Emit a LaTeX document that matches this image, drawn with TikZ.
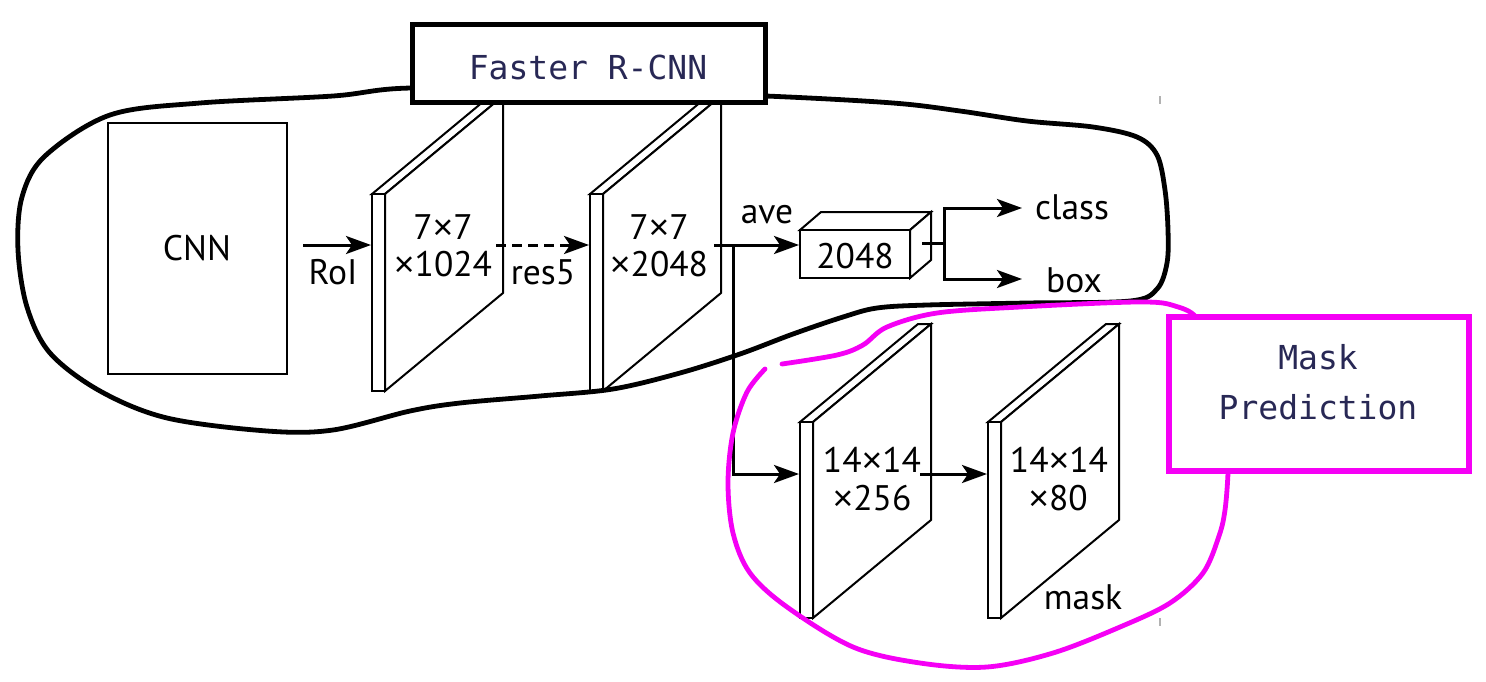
\documentclass[tikz,border=0pt]{standalone}
\usepackage{fontspec}
\usepackage{graphicx}
\setmainfont{PT Sans}
\newfontfamily\monof{DejaVu Sans Mono}
\newfontfamily\xfont{Liberation Sans}
\usetikzlibrary{arrows.meta}
\definecolor{navyt}{RGB}{40,40,85}
\definecolor{magn}{RGB}{245,0,245}
\newcommand\tms{{\xfont ×}}
\newcommand\myslab[3]{%
  \draw[slabline] (#1,#2) -- (#1+13,#2) -- (#1+131,#2-98) -- (#1+118,#2-98) -- cycle;
  \draw[slabline] (#1+13,#2) -- (#1+131,#2-98) -- (#1+131,#3-98) -- (#1+13,#3) -- cycle;
  \draw[slabline] (#1,#2) rectangle (#1+13,#3);
}
\begin{document}
\begin{tikzpicture}[x=1pt,y=-1pt,
  lab/.style={font=\fontsize{35.5}{40}\selectfont, inner sep=0pt},
  mono/.style={font=\monof\fontsize{33}{50}\selectfont, text=navyt, inner sep=0pt, align=center},
  arr/.style={line width=3pt, -{Stealth[length=25pt,width=18pt,inset=6pt]}},
  slabline/.style={line width=2pt, fill=white, line join=miter},
  blob/.style={line width=4.8pt, line cap=round, line join=round}]
\useasboundingbox[fill=white] (0,0) rectangle (1486,681);

% CNN box
\node[draw, line width=2pt, minimum width=179pt, minimum height=251pt, inner sep=0pt] (cnn) at (197.5,248.5) {};
\node[lab] (cnnt) at (197,248) {CNN};

% slabs
\myslab{372}{194}{391}
\myslab{590}{194}{391}
\myslab{800}{422}{618}
\myslab{988}{422}{618}

\coordinate (p1in) at (371,245);
\coordinate (p1out) at (496,245);
\coordinate (p2in) at (589,245);
\coordinate (p2out) at (714,245);
\coordinate (p3in) at (799,474);
\coordinate (p3out) at (920,474);
\coordinate (p4in) at (987,474);
\coordinate (roiS) at (303,245);
\coordinate (jn) at (733,245);
\coordinate (jb) at (733,474);

% slab texts
\node[lab] (t1a) at (443,227) {7\tms7};
\node[lab] (t1b) at (443,264) {\tms1024};
\node[lab] (t2a) at (659,227) {7\tms7};
\node[lab] (t2b) at (659,264) {\tms2048};
\node[lab] (t3a) at (872,460) {14\tms14};
\node[lab] (t3b) at (872,498) {\tms256};
\node[lab] (t4a) at (1059,460) {14\tms14};
\node[lab] (t4b) at (1058,498) {\tms80};

% cube
\draw[slabline] (800,230) -- (821,212) -- (931,212) -- (910,230) -- cycle;
\draw[slabline] (910,230) -- (931,212) -- (931,260) -- (910,278) -- cycle;
\node[draw, line width=2pt, fill=white, minimum width=110pt, minimum height=48pt, inner sep=0pt] (cube) at (855,254) {};
\node[lab] (cubet) at (855,256) {2048};
\coordinate (cubein) at (799,245);
\coordinate (cubeout) at (922,243);
\coordinate (br) at (944,243);
\coordinate (classin) at (1022,208);
\coordinate (boxin) at (1022,279);

% arrows
\draw[arr] (roiS) -- (p1in);
\draw[arr, dashed, dash pattern=on 10pt off 6pt] (p1out) -- (p2in);
\draw[arr] (p2out) -- (cubein);
\draw[arr] (jn) -- (jb) -- (p3in);
\draw[arr] (p3out) -- (p4in);
\draw[line width=3pt] (cubeout) -- (br);
\draw[arr] (br) |- (classin);
\draw[arr] (br) |- (boxin);

% labels
\node[lab] (roil) at (333,272) {RoI};
\node[lab] (res5l) at (543,272) {res5};
\node[lab] (avel) at (767,215) {ave};
\node[lab, anchor=west] (classl) at (1035,207) {class};
\node[lab, anchor=west] (boxl) at (1046,280) {box};
\node[lab] (maskl) at (1083,597) {mask};

% black blob
\draw[blob] plot[smooth cycle, tension=0.55] coordinates {
 (110,115) (200,103) (333,96) (411,88) (590,90) (766,96) (893,103) (960,111)
 (1027,121) (1093,127) (1137,137) (1157,155) (1165,190) (1168,230) (1167,263)
 (1157,289) (1130,301) (1027,303) (927,305) (877,308) (843,317) (793,334)
 (740,354) (680,373) (613,389) (540,396) (460,403) (410,411) (333,430)
 (267,431) (167,418) (100,391) (50,353) (27,307) (18,250) (22,197) (45,156)};

% magenta blob
\draw[blob, magn] plot[smooth, tension=0.55] coordinates {
 (782,364) (837,355) (863,345) (887,327) (937,313) (1020,307) (1137,302)
 (1175,306) (1200,322) (1225,380) (1228,440) (1228,473) (1225,510) (1219,536)
 (1203,573) (1170,603) (1120,627) (1053,653) (987,667) (920,663) (853,647)
 (787,607) (750,573) (733,533) (728,483) (733,433) (747,392) (765,369)};

% boxes
\node[draw, line width=5pt, fill=white, minimum width=353pt, minimum height=78pt, inner sep=0pt] (frcnn) at (588.5,63.5) {};
\node[mono] (frcnnt) at (588,67) {Faster R-CNN};
\node[draw=magn, line width=6pt, fill=white, minimum width=300pt, minimum height=154pt, inner sep=0pt] (mpbox) at (1319,394) {};
\node[mono] (mpt) at (1318,382) {Mask\\Prediction};

% small marks
\draw[gray!60, line width=1.2pt] (1160,96) -- (1160,104);
\draw[gray!60, line width=1.2pt] (1160,618) -- (1160,626);
\end{tikzpicture}
\end{document}
